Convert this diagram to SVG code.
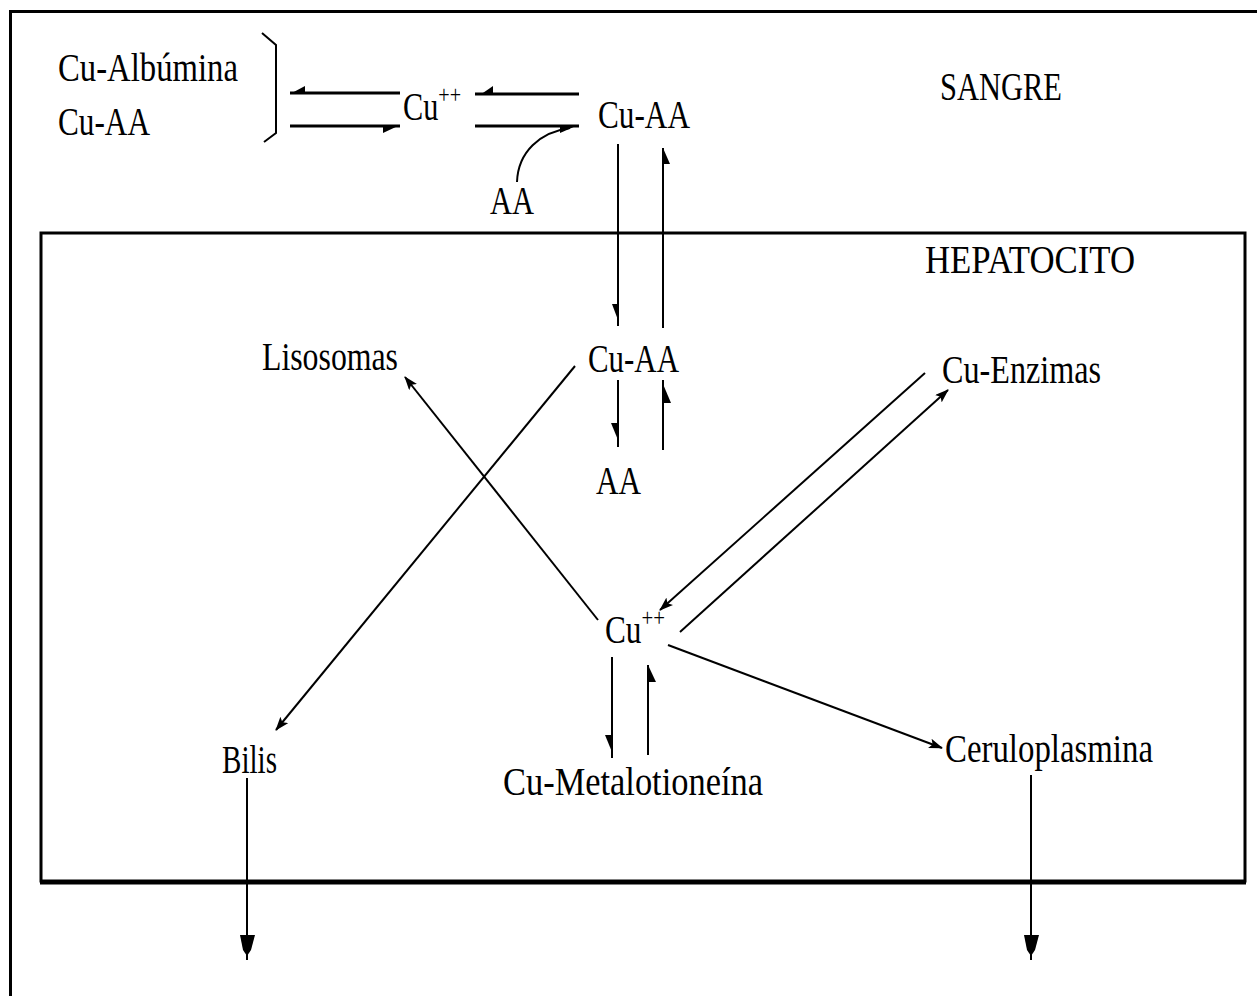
<svg xmlns="http://www.w3.org/2000/svg" width="1257" height="996" viewBox="0 0 1257 996">
<style>
text{font-family:"Liberation Serif","Times New Roman",serif;font-size:39px;fill:#000;}
.sup{font-size:26px;}
.ln{stroke:#000;stroke-width:2;fill:none;}
.th{stroke:#000;stroke-width:3;fill:none;}
.hd{fill:#000;stroke:none;}
</style>
<defs>
<marker id="ah" markerUnits="userSpaceOnUse" markerWidth="14" markerHeight="10" refX="13" refY="5" orient="auto">
<path d="M0,0 L14,5 L0,10 L3,5 z" fill="#000"/>
</marker>
</defs>
<rect width="1257" height="996" fill="#fff"/>
<g id="frames">
<path class="th" d="M10.5,996 V11.5 H1257"/>
<rect x="41" y="233" width="1204" height="648" class="th"/>
<line x1="40" y1="882.5" x2="1246" y2="882.5" stroke="#000" stroke-width="4"/>
</g>
<g id="connectors">
<path class="ln" d="M262,33 L276,45 V133 L264,142"/>
<line class="th" x1="290" y1="93" x2="400" y2="93"/>
<polygon class="hd" points="290,94 305,94 305,86"/>
<line class="th" x1="290" y1="126" x2="400" y2="126"/>
<polygon class="hd" points="400,125 383,125 383,133"/>
<line class="th" x1="475" y1="94" x2="579" y2="94"/>
<polygon class="hd" points="480,95 493,95 493,86"/>
<line class="th" x1="475" y1="126" x2="579" y2="126"/>
<polygon class="hd" points="576,126 560,126 560,133"/>
<path class="ln" d="M517,182 C518,152 540,132 570,128"/>
<line class="ln" x1="618" y1="144" x2="618" y2="326"/>
<polygon class="hd" points="618,320 618,304 612,304"/>
<line class="ln" x1="663" y1="148" x2="663" y2="328"/>
<polygon class="hd" points="663,148 663,164 670,164"/>
<line class="ln" x1="618" y1="380" x2="618" y2="447"/>
<polygon class="hd" points="618,440 618,423 611,423"/>
<line class="ln" x1="663" y1="380" x2="663" y2="450"/>
<polygon class="hd" points="663,384 663,403 671,403"/>
<line class="ln" x1="612" y1="657" x2="612" y2="758"/>
<polygon class="hd" points="612,752 612,735 605,735"/>
<line class="ln" x1="648" y1="665" x2="648" y2="755"/>
<polygon class="hd" points="648,665 648,682 656,682"/>
<line class="ln" x1="247" y1="778" x2="247" y2="960"/>
<polygon class="hd" points="240,935 255,935 251,950 247,956 243,950"/>
<line class="ln" x1="1031" y1="775" x2="1031" y2="960"/>
<polygon class="hd" points="1024,935 1039,935 1035,950 1031,956 1027,950"/>
<line class="ln" x1="598" y1="620" x2="405" y2="377" marker-end="url(#ah)"/>
<line class="ln" x1="575" y1="366" x2="276" y2="730" marker-end="url(#ah)"/>
<line class="ln" x1="925" y1="373" x2="660" y2="610" marker-end="url(#ah)"/>
<line class="ln" x1="680" y1="632" x2="948" y2="390" marker-end="url(#ah)"/>
<line class="ln" x1="668" y1="645" x2="942" y2="748" marker-end="url(#ah)"/>
</g>
<g id="n-cualb"><text x="58" y="81" textLength="180" lengthAdjust="spacingAndGlyphs">Cu-Albúmina</text></g>
<g id="n-cuaa1"><text x="58" y="135" textLength="92" lengthAdjust="spacingAndGlyphs">Cu-AA</text></g>
<g id="n-cu1"><text x="403" y="120" textLength="58" lengthAdjust="spacingAndGlyphs">Cu<tspan class="sup" dy="-17">++</tspan></text></g>
<g id="n-cuaa2"><text x="598" y="128" textLength="92" lengthAdjust="spacingAndGlyphs">Cu-AA</text></g>
<g id="n-aa1"><text x="490" y="214" textLength="44" lengthAdjust="spacingAndGlyphs">AA</text></g>
<g id="n-sangre"><text x="940" y="100" textLength="122" lengthAdjust="spacingAndGlyphs">SANGRE</text></g>
<g id="n-hep"><text x="925" y="273" textLength="210" lengthAdjust="spacingAndGlyphs">HEPATOCITO</text></g>
<g id="n-lis"><text x="262" y="370" textLength="136" lengthAdjust="spacingAndGlyphs">Lisosomas</text></g>
<g id="n-cuaa3"><text x="588" y="372" textLength="91" lengthAdjust="spacingAndGlyphs">Cu-AA</text></g>
<g id="n-cuenz"><text x="942" y="383" textLength="159" lengthAdjust="spacingAndGlyphs">Cu-Enzimas</text></g>
<g id="n-aa2"><text x="596" y="494" textLength="45" lengthAdjust="spacingAndGlyphs">AA</text></g>
<g id="n-cu2"><text x="605" y="643" textLength="60" lengthAdjust="spacingAndGlyphs">Cu<tspan class="sup" dy="-17">++</tspan></text></g>
<g id="n-bilis"><text x="222" y="773" textLength="55" lengthAdjust="spacingAndGlyphs">Bilis</text></g>
<g id="n-met"><text x="503" y="795" textLength="260" lengthAdjust="spacingAndGlyphs">Cu-Metalotioneína</text></g>
<g id="n-cer"><text x="945" y="762" textLength="208" lengthAdjust="spacingAndGlyphs">Ceruloplasmina</text></g>
</svg>
